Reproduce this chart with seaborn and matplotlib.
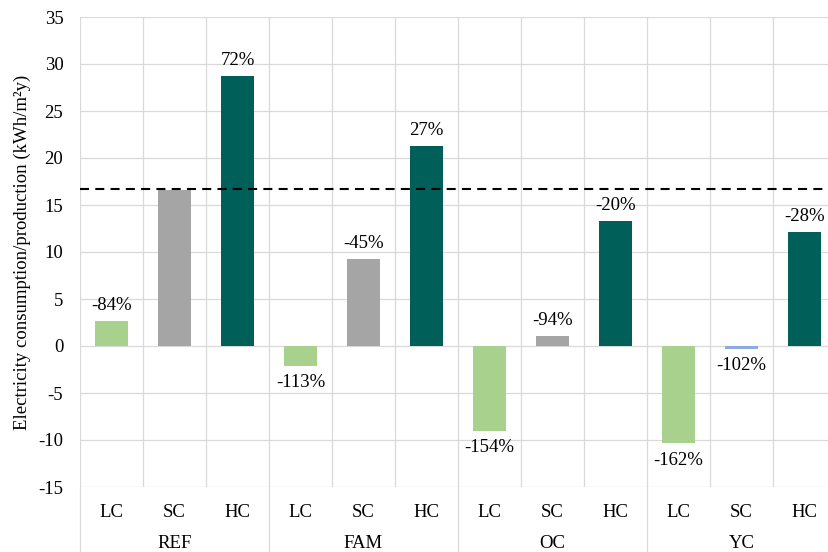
import matplotlib
matplotlib.use("Agg")
import matplotlib.pyplot as plt
import matplotlib.transforms as mtransforms
from matplotlib.lines import Line2D
import seaborn as sns
import pandas as pd

groups = ["REF", "FAM", "OC", "YC"]
cases = ["LC", "SC", "HC"]
values = [2.7, 16.6, 28.7,
          -2.1, 9.3, 21.3,
          -9.05, 1.05, 13.3,
          -10.35, -0.3, 12.1]
labels = ["-84%", "", "72%",
          "-113%", "-45%", "27%",
          "-154%", "-94%", "-20%",
          "-162%", "-102%", "-28%"]
bar_colors = ["#a9d18e", "#a5a5a5", "#005f58",
              "#a9d18e", "#a5a5a5", "#005f58",
              "#a9d18e", "#a5a5a5", "#005f58",
              "#a9d18e", "#8faadc", "#005f58"]
reference_line = 16.65

sns.set_theme(style="white")
plt.rcParams["font.family"] = ["Liberation Serif", "DejaVu Serif"]
plt.rcParams["lines.scale_dashes"] = False
plt.rcParams["text.color"] = "black"
plt.rcParams["axes.labelcolor"] = "black"
plt.rcParams["xtick.color"] = "black"
plt.rcParams["ytick.color"] = "black"

FS = 13.5

slots = [f"{g}-{c}" for g in groups for c in cases]
df = pd.DataFrame({"slot": slots, "value": values})

fig = plt.figure(figsize=(8.29, 5.52), dpi=100)
ax = fig.add_axes([80 / 829, 1 - 487 / 552, (836 - 80) / 829, (487 - 17) / 552])

sns.barplot(data=df, x="slot", y="value", hue="slot",
            palette=dict(zip(slots, bar_colors)), legend=False,
            width=0.51, saturation=1, linewidth=0, ax=ax, zorder=3)

ax.set_ylim(-15, 35)
ax.set_xlim(-0.5, len(slots) - 0.5)
ax.set_yticks(range(-15, 36, 5))
ax.set_yticklabels([str(v) for v in range(-15, 36, 5)], fontsize=FS, color="black")
ax.set_xticks(range(len(slots)))
ax.set_xticklabels(cases * len(groups), fontsize=FS, color="black")
ax.set_xticks([i - 0.5 for i in range(len(slots) + 1)], minor=True)
ax.tick_params(axis="both", which="both", length=0)
ax.tick_params(axis="x", pad=12)
ax.tick_params(axis="y", pad=12)
ax.grid(True, axis="y", color="#d9d9d9", lw=0.9, zorder=0)
ax.grid(True, axis="x", which="minor", color="#d9d9d9", lw=0.9, zorder=0)
ax.grid(False, axis="x", which="major")
for s in ax.spines.values():
    s.set_visible(False)

ax.set_xlabel("")
ax.set_ylabel("Electricity consumption/production (kWh/m²y)", fontsize=FS,
              labelpad=5, color="black")

ax.axhline(reference_line, color="black", lw=1.5, linestyle=(0, (6.5, 4.5)), zorder=4)

for i, (v, lab) in enumerate(zip(values, labels)):
    if not lab:
        continue
    if v >= 0:
        ax.annotate(lab, (i, v), xytext=(0, 5), textcoords="offset points",
                    ha="center", va="bottom", fontsize=FS, color="black")
    else:
        ax.annotate(lab, (i, v), xytext=(0, -6), textcoords="offset points",
                    ha="center", va="top", fontsize=FS, color="black")

trans = mtransforms.blended_transform_factory(ax.transData, ax.transAxes)
ax_h_px = 487 - 17
for gi, g in enumerate(groups):
    ax.text(gi * 3 + 1, -57 / ax_h_px, g, transform=trans, ha="center", va="center",
            fontsize=FS, color="black")
for gi in range(len(groups) + 1):
    x = gi * 3 - 0.5
    ax.add_line(Line2D([x, x], [0, -70 / ax_h_px], transform=trans, color="#d9d9d9",
                       lw=0.9, clip_on=False))

fig.savefig("out.png", dpi=100)
